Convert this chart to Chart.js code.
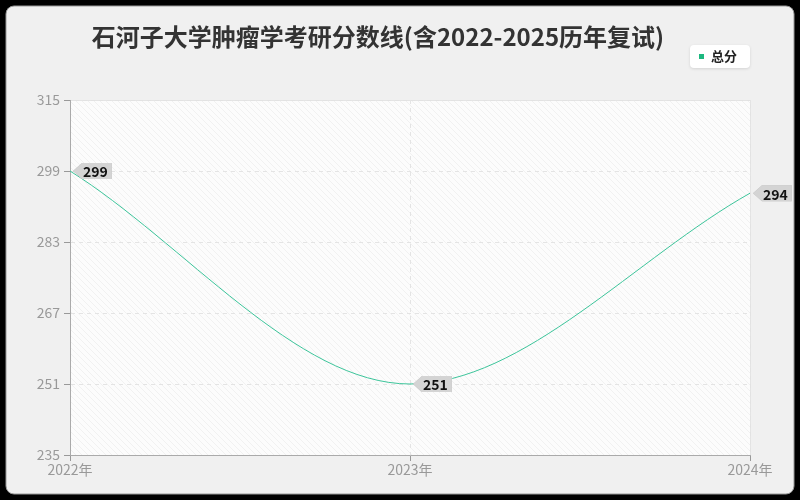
<!DOCTYPE html>
<html>
<head>
<meta charset="utf-8">
<script src="https://cdn.jsdelivr.net/npm/chart.js@4.4.0/dist/chart.umd.min.js"></script>
<style>
    html, body { margin: 0; padding: 0; background: #000; }
    #wrap { width: 800px; height: 500px; }
</style>
</head>
<body>
<div id="wrap"><canvas id="score-chart" width="800" height="500"></canvas></div>
<script>
const titleText = '石河子大学肿瘤学考研分数线(含2022-2025历年复试)';
const years = ['2022年', '2023年', '2024年'];
const totalScores = [299, 251, 294];
const yTicks = [235, 251, 267, 283, 299, 315];

const FONT = '"Noto Sans CJK SC", "Noto Sans", sans-serif';
const LINE_COLOR = '#3cc49a';

// card background, title, legend and hatch on the plot area
const backdropPlugin = {
    id: 'backdrop',
    beforeDraw(chart) {
        const ctx = chart.ctx;
        const area = chart.chartArea;
        ctx.save();
        ctx.fillStyle = '#000';
        ctx.fillRect(0, 0, chart.width, chart.height);
        ctx.beginPath();
        ctx.roundRect(6, 6, chart.width - 12, chart.height - 12, 8);
        ctx.fillStyle = '#f0f0f0';
        ctx.fill();
        ctx.strokeStyle = '#999';
        ctx.lineWidth = 1;
        ctx.stroke();

        // plot area with faint diagonal hatch
        ctx.fillStyle = '#fcfcfc';
        ctx.fillRect(area.left, area.top, area.right - area.left, area.bottom - area.top);
        ctx.beginPath();
        ctx.rect(area.left, area.top, area.right - area.left, area.bottom - area.top);
        ctx.clip();
        ctx.strokeStyle = '#f1f1f1';
        ctx.lineWidth = 1;
        const h = area.bottom - area.top;
        for (let x = area.left - h; x < area.right; x += 6) {
            ctx.beginPath();
            ctx.moveTo(x, area.top);
            ctx.lineTo(x + h, area.bottom);
            ctx.stroke();
        }
        ctx.restore();

        ctx.save();
        ctx.strokeStyle = '#e2e2e2';
        ctx.lineWidth = 1;
        ctx.beginPath();
        ctx.moveTo(area.left, area.top + 0.5);
        ctx.lineTo(area.right + 0.5, area.top + 0.5);
        ctx.lineTo(area.right + 0.5, area.bottom);
        ctx.stroke();

        // title
        ctx.fillStyle = '#333';
        ctx.font = 'bold 24px ' + FONT;
        ctx.textAlign = 'center';
        ctx.textBaseline = 'middle';
        ctx.fillText(titleText, 378, 37);

        // legend
        ctx.shadowColor = 'rgba(0,0,0,0.12)';
        ctx.shadowBlur = 3;
        ctx.shadowOffsetY = 1;
        ctx.beginPath();
        ctx.roundRect(690, 45, 60, 23, 4);
        ctx.fillStyle = '#fff';
        ctx.fill();
        ctx.shadowColor = 'transparent';
        ctx.fillStyle = '#1cb87f';
        ctx.fillRect(699, 54, 5, 5);
        ctx.fillStyle = '#222';
        ctx.font = 'bold 13px ' + FONT;
        ctx.textAlign = 'left';
        ctx.fillText('总分', 711, 56);
        ctx.restore();
    }
};

// gray value tags with an arrow pointing at each point
const valueTagPlugin = {
    id: 'valueTags',
    afterDatasetsDraw(chart) {
        const ctx = chart.ctx;
        const meta = chart.getDatasetMeta(0);
        ctx.save();
        ctx.font = 'bold 14px ' + FONT;
        meta.data.forEach((pt, i) => {
            const label = String(chart.data.datasets[0].data[i]);
            const w = ctx.measureText(label).width + 5;
            const x0 = pt.x + 3;
            const bx = x0 + 9;
            const top = pt.y - 8;
            const bottom = pt.y + 8;
            ctx.beginPath();
            ctx.moveTo(x0, pt.y);
            ctx.lineTo(bx, top);
            ctx.lineTo(bx + w, top);
            ctx.lineTo(bx + w, bottom);
            ctx.lineTo(bx, bottom);
            ctx.closePath();
            ctx.fillStyle = '#b8b8b8';
            ctx.save();
            ctx.translate(1, 1);
            ctx.fill();
            ctx.restore();
            ctx.fillStyle = '#d4d4d4';
            ctx.fill();
            ctx.fillStyle = '#111';
            ctx.textAlign = 'left';
            ctx.textBaseline = 'middle';
            ctx.fillText(label, bx + 1, pt.y + 1);
        });
        ctx.restore();
    }
};

new Chart(document.getElementById('score-chart').getContext('2d'), {
    type: 'line',
    data: {
        labels: years,
        datasets: [{
            label: '总分',
            data: totalScores,
            borderColor: LINE_COLOR,
            backgroundColor: LINE_COLOR,
            borderWidth: 1,
            pointRadius: 0,
            cubicInterpolationMode: 'monotone',
            fill: false
        }]
    },
    options: {
        responsive: false,
        animation: false,
        devicePixelRatio: 1,
        layout: {
            padding: { left: 0, right: 50, top: 100, bottom: 0 }
        },
        scales: {
            x: {
                offset: false,
                afterFit: scale => { scale.height = 45; },
                grid: {
                    color: '#e4e4e4',
                    tickColor: '#999',
                    tickLength: 6,
                    drawOnChartArea: true
                },
                border: { color: '#aaa', dash: [4, 4] },
                ticks: {
                    color: '#999',
                    font: { size: 14, family: FONT },
                    maxRotation: 0,
                    padding: 0
                }
            },
            y: {
                min: 235,
                max: 315,
                afterFit: scale => { scale.width = 70; },
                afterBuildTicks: scale => {
                    scale.ticks = yTicks.map(v => ({ value: v }));
                },
                grid: {
                    color: '#e4e4e4',
                    tickColor: '#999',
                    tickLength: 6
                },
                border: { color: '#aaa', dash: [4, 4] },
                ticks: {
                    color: '#999',
                    font: { size: 14, family: FONT },
                    padding: 4
                }
            }
        },
        plugins: {
            legend: { display: false },
            title: { display: false },
            tooltip: { enabled: false }
        }
    },
    plugins: [backdropPlugin, valueTagPlugin]
});
</script>
</body>
</html>
